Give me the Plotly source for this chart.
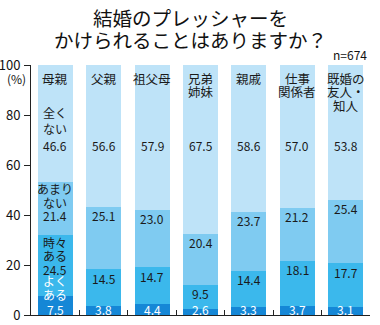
import plotly.graph_objects as go

categories = ["母親", "父親", "祖父母", "兄弟\n姉妹", "親戚", "仕事\n関係者", "既婚の\n友人・\n知人"]
series_names = ["よくある", "時々ある", "あまりない", "全くない"]
yoku = [7.5, 3.8, 4.4, 2.6, 3.3, 3.7, 3.1]
tokidoki = [24.5, 14.5, 14.7, 9.5, 14.4, 18.1, 17.7]
amari = [21.4, 25.1, 23.0, 20.4, 23.7, 21.2, 25.4]
mattaku = [46.6, 56.6, 57.9, 67.5, 58.6, 57.0, 53.8]
series_values = [yoku, tokidoki, amari, mattaku]
first_labels = ["よく\nある", "時々\nある", "あまり\nない", "全く\nない"]
yticks = [0, 20, 40, 60, 80, 100]

colors = ["#1587d6", "#3bb8ec", "#7fcbf1", "#bee3f8"]
text_colors = ["white", "#1a1a1a", "#1a1a1a", "#1a1a1a"]
FONT = "Noto Sans CJK JP"

L, R, T, B = 31, 10, 65, 10
W, H = 380, 325
pw, ph = W - L - R, H - T - B


def px_to_paper(px, py):
    return (px - L) / pw, (H - B - py) / ph


x = list(range(len(categories)))
fig = go.Figure()
for name, vals, c in zip(series_names, series_values, colors):
    fig.add_trace(go.Bar(x=x, y=vals, name=name, marker=dict(color=c, line=dict(width=0)),
                         width=0.72, hoverinfo="skip"))

ann = []
# category names at top of bars
for i, cat in enumerate(categories):
    for j, line in enumerate(cat.split("\n")):
        ann.append(dict(x=i, y=100, xref="x", yref="y", text=line, showarrow=False,
                        yshift=-13 - j * 13.5, font=dict(size=12.5, color="#1a1a1a", family=FONT)))

VAL_FONT = 12
for i in range(len(categories)):
    bottom = 0.0
    for s, vals in enumerate(series_values):
        top = bottom + vals[i]
        if i == 0:
            lines = first_labels[s].split("\n") + [f"{vals[i]:.1f}"]
            n = len(lines)
            if s == 3:
                ys = [68] * n
                shifts = [(n - 1 - k) * 16.5 for k in range(n)]
            elif s == 0:
                ys = [0] * n
                shifts = [6 + (n - 1 - k) * 14.5 for k in range(n)]
            else:
                ys = [top] * n
                shifts = [-(7 + k * 13.5) for k in range(n)]
            for k, line in enumerate(lines):
                ann.append(dict(x=i, y=ys[k], xref="x", yref="y", text=line, showarrow=False,
                                yshift=shifts[k],
                                font=dict(size=VAL_FONT, color=text_colors[s], family=FONT)))
        else:
            if s == 3:
                yv, sh = 68, 0
            elif s == 0:
                yv, sh = bottom, 6
            else:
                yv, sh = top, -9
            ann.append(dict(x=i, y=yv, xref="x", yref="y", text=f"{vals[i]:.1f}", showarrow=False,
                            yshift=sh, font=dict(size=VAL_FONT, color=text_colors[s], family=FONT)))
        bottom = top

# titles and notes (pixel positions converted to paper)
tx, ty1 = px_to_paper(W / 2, 17)
_, ty2 = px_to_paper(W / 2, 40)
ann.append(dict(x=tx, y=ty1, xref="paper", yref="paper", text="結婚のプレッシャーを", showarrow=False,
                xanchor="center", yanchor="middle", font=dict(size=19.5, color="#111", family=FONT)))
ann.append(dict(x=tx, y=ty2, xref="paper", yref="paper", text="かけられることはありますか？", showarrow=False,
                xanchor="center", yanchor="middle", font=dict(size=19.5, color="#111", family=FONT)))
nx, ny = px_to_paper(369, 55)
ann.append(dict(x=nx, y=ny, xref="paper", yref="paper", text="n=674", showarrow=False,
                xanchor="right", yanchor="middle", font=dict(size=12, color="#111", family=FONT)))
px_, py_ = px_to_paper(28, 78)
ann.append(dict(x=px_, y=py_, xref="paper", yref="paper", text="(%)", showarrow=False,
                xanchor="right", yanchor="middle", font=dict(size=12, color="#111", family=FONT)))

fig.update_layout(
    barmode="stack",
    width=W, height=H,
    margin=dict(l=L, r=R, t=T, b=B, autoexpand=False),
    paper_bgcolor="white", plot_bgcolor="white",
    showlegend=False,
    font=dict(family=FONT, color="#111"),
    annotations=ann,
    xaxis=dict(range=[-0.5, 6.5], tickmode="array", tickvals=[k + 0.5 for k in range(7)],
               ticktext=[""] * 7, ticks="inside", ticklen=5, tickcolor="#222", tickwidth=1,
               showline=True, linecolor="#222", linewidth=1, showgrid=False, zeroline=False,
               fixedrange=True, automargin=False),
    yaxis=dict(range=[0, 100], tickmode="array", tickvals=yticks, ticks="outside", ticklen=6,
               tickcolor="#222", tickwidth=1, showline=True, linecolor="#222", linewidth=1,
               showgrid=False, zeroline=False, tickfont=dict(size=13, color="#111"),
               ticklabelstandoff=1, fixedrange=True, automargin=False),
)
fig.write_html("out.html")
